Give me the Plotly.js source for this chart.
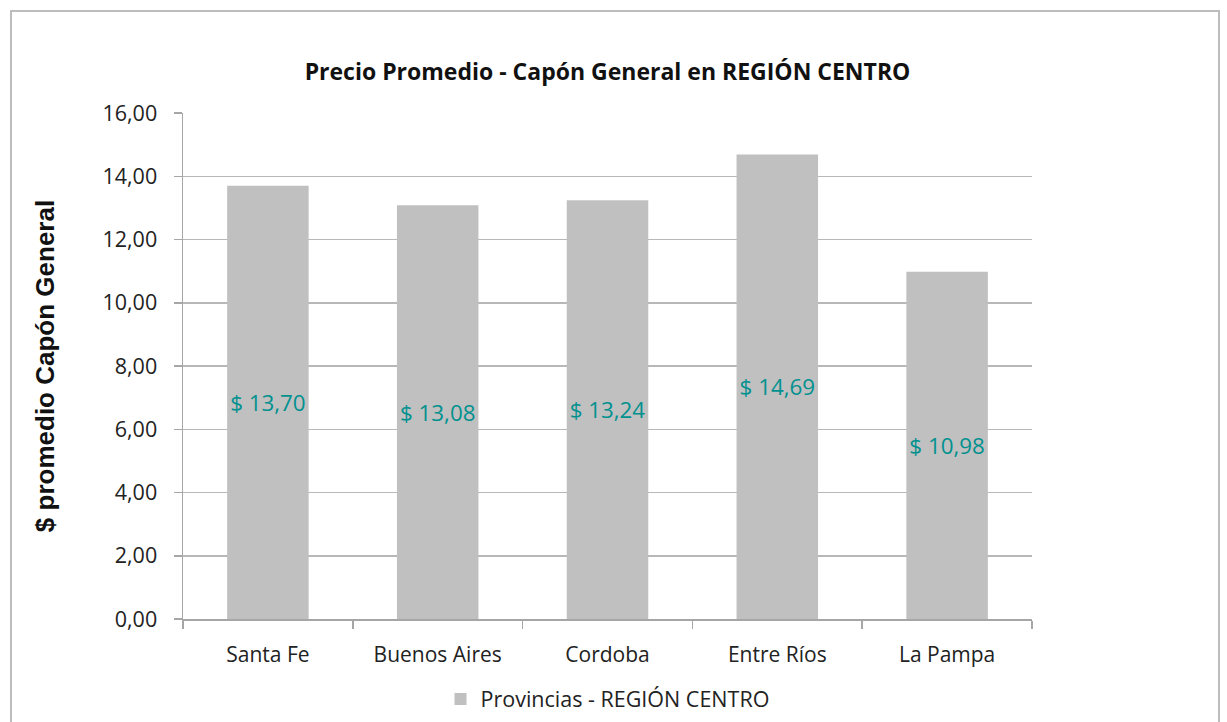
<!DOCTYPE html>
<html>
<head>
<meta charset="utf-8">
<script src="https://cdn.plot.ly/plotly-3.0.1.min.js"></script>
<style>
html,body{margin:0;padding:0;background:#fff;}
#chart{width:1227px;height:722px;}
#frame{position:absolute;left:10px;top:10px;width:1210px;height:720px;border:2px solid #bdbdbd;pointer-events:none;box-sizing:border-box;}
</style>
</head>
<body>
<div id="chart"></div>
<div id="frame"></div>
<script>
const categories = ["Santa Fe", "Buenos Aires", "Cordoba", "Entre Ríos", "La Pampa"];
const values = [13.70, 13.08, 13.24, 14.69, 10.98];
const labels = ["$ 13,70", "$ 13,08", "$ 13,24", "$ 14,69", "$ 10,98"];
const yTicks = [0, 2, 4, 6, 8, 10, 12, 14, 16];
const yTickText = ["0,00", "2,00", "4,00", "6,00", "8,00", "10,00", "12,00", "14,00", "16,00"];

const FONT = "Open Sans, Noto Sans, sans-serif";

const trace = {
  type: "bar",
  x: categories,
  y: values,
  name: "Provincias - REGIÓN CENTRO",
  text: labels,
  textposition: "inside",
  insidetextanchor: "middle",
  textangle: 0,
  textfont: {family: FONT, size: 22.5, color: "#00918f"},
  marker: {color: "#c0c0c0"},
  hoverinfo: "x+y"
};

const layout = {
  width: 1227, height: 722,
  margin: {l: 183, r: 195, t: 113, b: 103},
  paper_bgcolor: "#ffffff",
  plot_bgcolor: "#ffffff",
  bargap: 0.52,
  title: {
    text: "<b>Precio Promedio - Capón General en REGIÓN CENTRO</b>",
    font: {family: FONT, size: 23, color: "#111111"},
    x: 0.5, xref: "paper", xanchor: "center",
    y: 1 - 72/722, yanchor: "middle"
  },
  showlegend: true,
  legend: {
    orientation: "h", x: 0.5, xanchor: "center",
    yref: "container", y: 1 - 699/722, yanchor: "middle",
    font: {family: FONT, size: 21.5, color: "#222222"}
  },
  xaxis: {
    type: "category",
    automargin: false,
    showline: true, linecolor: "#a6a6a6", linewidth: 1.5,
    ticks: "outside", tickson: "boundaries", ticklen: 8, tickcolor: "#a6a6a6", tickwidth: 1.5,
    ticklabelstandoff: 16,
    showgrid: false,
    tickfont: {family: FONT, size: 21, color: "#222222"},
    fixedrange: true
  },
  yaxis: {
    range: [0, 16],
    automargin: false,
    tickvals: yTicks, ticktext: yTickText,
    showline: true, linecolor: "#a6a6a6", linewidth: 1.5,
    ticks: "outside", ticklen: 8, tickcolor: "#a6a6a6", tickwidth: 1.5,
    ticklabelstandoff: 12,
    showgrid: true, gridcolor: "#b8b8b8", gridwidth: 1.5,
    zeroline: false,
    tickfont: {family: FONT, size: 21.5, color: "#222222"},
    title: {
      text: "<b>$ promedio Capón General</b>",
      font: {family: "Liberation Sans, Arial, sans-serif", size: 26, color: "#111111"},
      standoff: 40
    },
    fixedrange: true
  }
};

Plotly.newPlot("chart", [trace], layout, {displayModeBar: false, staticPlot: true});
</script>
</body>
</html>
